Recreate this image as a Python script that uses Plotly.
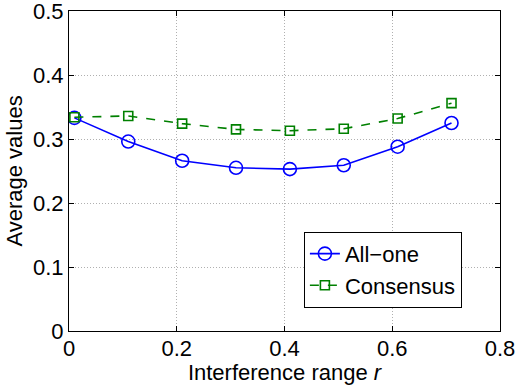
import plotly.graph_objects as go

# Interference range r (x) and average values of each scheme
r_values = [0.01, 0.11, 0.21, 0.31, 0.41, 0.51, 0.61, 0.71]
all_one = [0.333, 0.296, 0.266, 0.255, 0.253, 0.259, 0.288, 0.325]
consensus = [0.334, 0.336, 0.324, 0.315, 0.313, 0.316, 0.332, 0.356]

x_ticks = [0, 0.2, 0.4, 0.6, 0.8]
x_tick_text = ["0", "0.2", "0.4", "0.6", "0.8"]
y_ticks = [0, 0.1, 0.2, 0.3, 0.4, 0.5]
y_tick_text = ["0", "0.1", "0.2", "0.3", "0.4", "0.5"]

FONT = "Liberation Sans, Arial, Helvetica, sans-serif"
FS = 22

fig = go.Figure()
fig.add_trace(go.Scatter(
    x=r_values, y=all_one, name="All\u2212one", mode="lines+markers",
    line=dict(color="#0000ff", width=1.6),
    marker=dict(symbol="circle-open", size=13, color="#0000ff",
                line=dict(width=1.6, color="#0000ff")),
))
fig.add_trace(go.Scatter(
    x=r_values, y=consensus, name="Consensus", mode="lines+markers",
    line=dict(color="#008000", width=1.6, dash="dash"),
    marker=dict(symbol="square-open", size=9, color="#008000",
                line=dict(width=1.6, color="#008000")),
))

axis_common = dict(
    showline=True, linecolor="black", linewidth=1, mirror="ticks",
    ticks="inside", ticklen=5, tickcolor="black", tickwidth=1,
    showgrid=True, gridcolor="#b0b0b0", gridwidth=1, griddash="1px,2px",
    zeroline=False, tickfont=dict(family=FONT, size=FS, color="black"),
    tickmode="array", ticklabeloverflow="allow", automargin=False,
)

fig.update_layout(
    width=518, height=385,
    margin=dict(l=69, r=18, t=11, b=54, autoexpand=False),
    paper_bgcolor="white", plot_bgcolor="white",
    font=dict(family=FONT, size=FS, color="black"),
    xaxis=dict(range=[0, 0.8], tickvals=x_ticks, ticktext=x_tick_text,
               ticklabelstandoff=-2,
               title=dict(text="Interference range <i>r</i>", standoff=0,
                          font=dict(family=FONT, size=FS)),
               **axis_common),
    yaxis=dict(range=[0, 0.5], tickvals=y_ticks, ticktext=y_tick_text,
               ticklabelstandoff=0,
               title=dict(text="Average values", standoff=4,
                          font=dict(family=FONT, size=FS)),
               **axis_common),
    legend=dict(x=0.545, y=0.31, xanchor="left", yanchor="top",
                bgcolor="white", bordercolor="black", borderwidth=1,
                font=dict(family=FONT, size=FS), tracegroupgap=0,
                itemwidth=30),
    showlegend=True,
)

fig.write_html("out.html")
